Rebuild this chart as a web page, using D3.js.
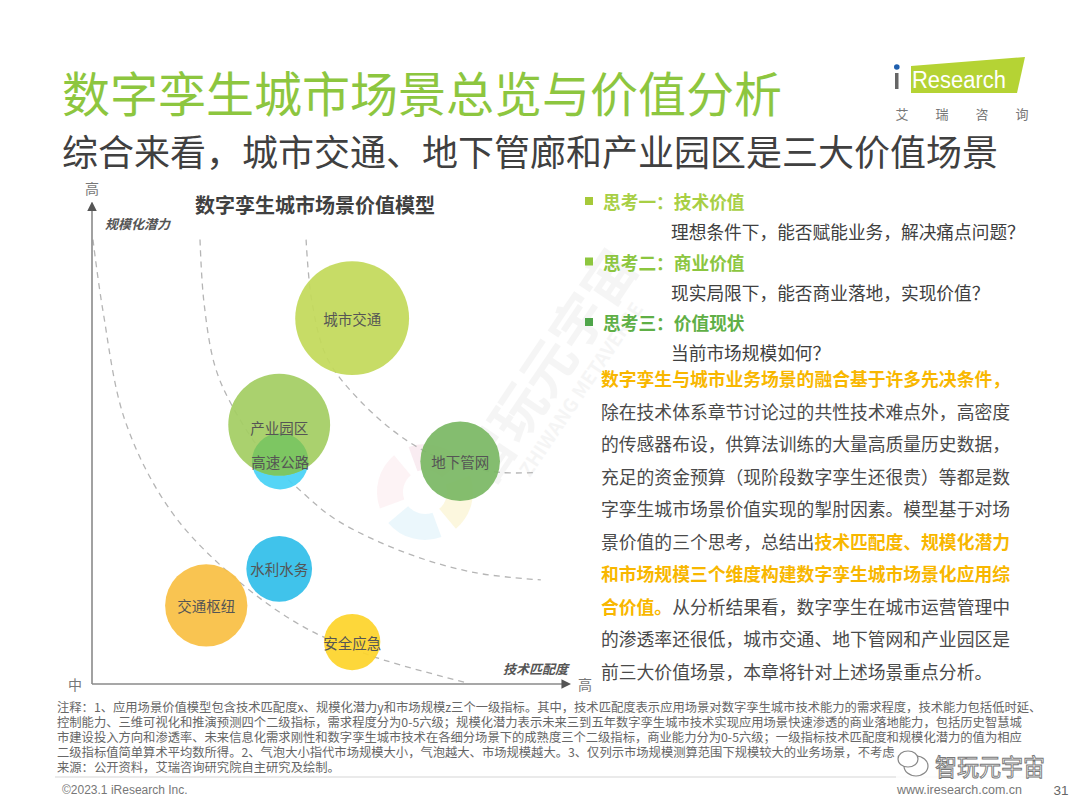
<!DOCTYPE html>
<html>
<head>
<meta charset="utf-8">
<script src="https://cdn.jsdelivr.net/npm/d3@7"></script>
<style>
    body { margin: 0; background: #fff; }
    svg text { font-family: "Noto Sans CJK SC", "Noto Sans", sans-serif; }
</style>
</head>
<body>
<svg id="chart" width="1080" height="810"></svg>
<script>
// bubble data: x = 技术匹配度, y = 规模化潜力, size = 市场规模 (0-100 relative)
const scenarios = ['城市交通', '产业园区', '高速公路', '地下管网', '水利水务', '交通枢纽', '安全应急'];
const techMatch = [54.2, 39.0, 39.2, 76.7, 39.0, 23.8, 54.2];
const scalePotential = [75.9, 53.8, 46.2, 46.2, 23.9, 16.3, 8.7];
const marketSize = [90, 72, 22, 44, 30, 47, 22];

// dashed value tiers in the same units
const curveLow = [[0.2, 92.2], [2.3, 77.3], [6.9, 54.6], [16.3, 36.1], [29.4, 22.3], [43.8, 12.0], [58.3, 5.8], [78.3, 0.2]];
const curveMid = [[22.5, 92.2], [23.3, 79.4], [25.6, 66.0], [29.2, 57.7], [36.0, 47.4], [44.0, 39.6], [51.0, 34.0], [65.4, 27.2], [79.8, 23.1], [93.5, 21.6]];
const curveHigh = [[44.6, 92.2], [45.8, 79.4], [49.0, 67.6], [55.8, 58.8], [65.6, 50.5], [74.6, 46.0], [85.0, 43.9], [92.7, 43.9]];

const axisEnds = ['中', '高'];

const thoughts = ['思考一：技术价值', '思考二：商业价值', '思考三：价值现状'];
const thoughtNotes = ['理想条件下，能否赋能业务，解决痛点问题？', '现实局限下，能否商业落地，实现价值？', '当前市场规模如何？'];

// [text, highlighted]
const paragraph = [
    [['数字孪生与城市业务场景的融合基于许多先决条件，', true]],
    [['除在技术体系章节讨论过的共性技术难点外，高密度', false]],
    [['的传感器布设，供算法训练的大量高质量历史数据，', false]],
    [['充足的资金预算（现阶段数字孪生还很贵）等都是数', false]],
    [['字孪生城市场景价值实现的掣肘因素。模型基于对场', false]],
    [['景价值的三个思考，总结出', false], ['技术匹配度、规模化潜力', true]],
    [['和市场规模三个维度构建数字孪生城市场景化应用综', true]],
    [['合价值。', true], ['从分析结果看，数字孪生在城市运营管理中', false]],
    [['的渗透率还很低，城市交通、地下管网和产业园区是', false]],
    [['前三大价值场景，本章将针对上述场景重点分析。', false]]
];

const notes = [
    '注释：1、应用场景价值模型包含技术匹配度x、规模化潜力y和市场规模z三个一级指标。其中，技术匹配度表示应用场景对数字孪生城市技术能力的需求程度，技术能力包括低时延、',
    '控制能力、三维可视化和推演预测四个二级指标，需求程度分为0-5六级；规模化潜力表示未来三到五年数字孪生城市技术实现应用场景快速渗透的商业落地能力，包括历史智慧城',
    '市建设投入方向和渗透率、未来信息化需求刚性和数字孪生城市技术在各细分场景下的成熟度三个二级指标，商业能力分为0-5六级；一级指标技术匹配度和规模化潜力的值为相应',
    '二级指标值简单算术平均数所得。2、气泡大小指代市场规模大小，气泡越大、市场规模越大。3、仅列示市场规模测算范围下规模较大的业务场景，不考虑',
    '来源：公开资料，艾瑞咨询研究院自主研究及绘制。'
];

const svg = d3.select('#chart');

const color = d3.scaleOrdinal()
    .domain(scenarios)
    .range(['#c3d95a', '#a4cd63', '#48d2f5', '#7bb864', '#31bee9', '#f9c044', '#fdd42b']);
const overlapColor = '#7dc662';

const x = d3.scaleLinear().domain([0, 100]).range([92, 572]);
const y = d3.scaleLinear().domain([0, 100]).range([684, 202]);
const r = d3.scaleSqrt().domain([0, 100]).range([0, 60]);

// ---------- header ----------
svg.append('text')
    .attr('x', 62).attr('y', 91)
    .attr('dominant-baseline', 'central')
    .style('font-size', '48px')
    .style('fill', '#8dc63f')
    .text('数字孪生城市场景总览与价值分析');

svg.append('text')
    .attr('x', 62).attr('y', 150)
    .attr('dominant-baseline', 'central')
    .style('font-size', '36px')
    .style('fill', '#404040')
    .text('综合来看，城市交通、地下管廊和产业园区是三大价值场景');

// logo
const logo = svg.append('g');
logo.append('path')
    .attr('d', 'M911,66 L1025,57 L1017,93 L911,93 Z')
    .style('fill', '#b5d334');
logo.append('rect').attr('x', 895).attr('y', 73).attr('width', 3.5).attr('height', 16).style('fill', '#666');
logo.append('circle').attr('cx', 896.8).attr('cy', 67).attr('r', 2.8).style('fill', '#1f5fae');
logo.append('text')
    .attr('x', 912).attr('y', 80)
    .attr('dominant-baseline', 'central')
    .attr('textLength', 94)
    .attr('lengthAdjust', 'spacingAndGlyphs')
    .style('font-family', '"Liberation Sans", sans-serif')
    .style('font-size', '23px')
    .style('fill', '#fff')
    .text('Research');
['艾', '瑞', '咨', '询'].forEach((c, i) => {
    logo.append('text')
        .attr('x', 902 + i * 40).attr('y', 113)
        .attr('text-anchor', 'middle')
        .attr('dominant-baseline', 'central')
        .style('font-size', '13px')
        .style('fill', '#777')
        .text(c);
});

// ---------- chart ----------
const plot = svg.append('g');

plot.append('text')
    .attr('x', 315).attr('y', 204)
    .attr('text-anchor', 'middle')
    .attr('dominant-baseline', 'central')
    .style('font-size', '20px')
    .style('font-weight', 'bold')
    .style('fill', '#404040')
    .text('数字孪生城市场景价值模型');

const defs = svg.append('defs');
defs.append('marker')
    .attr('id', 'arrow')
    .attr('viewBox', '0 0 10 10')
    .attr('refX', 2).attr('refY', 5)
    .attr('markerWidth', 6).attr('markerHeight', 6)
    .attr('orient', 'auto')
    .append('path')
    .attr('d', 'M0,0 L10,5 L0,10 Z')
    .style('fill', '#555');

const axisLine = d3.line().x(d => x(d[0])).y(d => y(d[1]));

// dashed tiers
const tierLine = d3.line()
    .x(d => x(d[0]))
    .y(d => y(d[1]))
    .curve(d3.curveCatmullRom.alpha(0.5));

[curveLow, curveMid, curveHigh].forEach(c => {
    plot.append('path')
        .datum(c)
        .attr('d', tierLine)
        .style('fill', 'none')
        .style('stroke', '#b5b5b5')
        .style('stroke-width', 1.3)
        .style('stroke-dasharray', '6,5');
});

plot.append('path')
    .datum([[0, 0], [0, 98.5]])
    .attr('d', axisLine)
    .attr('marker-end', 'url(#arrow)')
    .style('stroke', '#8a8a8a')
    .style('stroke-width', 1.6);
plot.append('path')
    .datum([[0, 0], [98.2, 0]])
    .attr('d', axisLine)
    .attr('marker-end', 'url(#arrow)')
    .style('stroke', '#8a8a8a')
    .style('stroke-width', 1.6);

plot.append('text')
    .attr('x', x(0)).attr('y', y(100) - 14)
    .attr('text-anchor', 'middle')
    .attr('dominant-baseline', 'central')
    .style('font-size', '14px').style('fill', '#777')
    .text(axisEnds[1]);
plot.append('text')
    .attr('x', x(0) - 17).attr('y', y(0))
    .attr('text-anchor', 'middle')
    .attr('dominant-baseline', 'central')
    .style('font-size', '14px').style('fill', '#777')
    .text(axisEnds[0]);
plot.append('text')
    .attr('x', x(100) + 13).attr('y', y(0))
    .attr('text-anchor', 'middle')
    .attr('dominant-baseline', 'central')
    .style('font-size', '14px').style('fill', '#777')
    .text(axisEnds[1]);

plot.append('text')
    .attr('x', x(0) + 13).attr('y', 223)
    .attr('dominant-baseline', 'central')
    .style('font-size', '13px').style('font-weight', 'bold').style('font-style', 'italic')
    .style('fill', '#555')
    .text('规模化潜力');
plot.append('text')
    .attr('x', x(100) - 4).attr('y', y(0) - 16)
    .attr('text-anchor', 'end')
    .attr('dominant-baseline', 'central')
    .style('font-size', '13px').style('font-weight', 'bold').style('font-style', 'italic')
    .style('fill', '#555')
    .text('技术匹配度');

// bubbles
const bubbles = scenarios.map((name, i) => ({
    name,
    tech: techMatch[i],
    potential: scalePotential[i],
    size: marketSize[i]
}));
const drawOrder = ['高速公路', '城市交通', '产业园区', '地下管网', '水利水务', '交通枢纽', '安全应急'];
const sorted = drawOrder.map(n => bubbles.find(b => b.name === n));

plot.selectAll('circle.bubble')
    .data(sorted)
    .enter()
    .append('circle')
    .classed('bubble', true)
    .attr('cx', d => x(d.tech))
    .attr('cy', d => y(d.potential))
    .attr('r', d => r(d.size))
    .style('fill', d => color(d.name))
    .style('opacity', 0.93);

// overlap of 高速公路 with 产业园区
const park = bubbles.find(b => b.name === '产业园区');
const highway = bubbles.find(b => b.name === '高速公路');
defs.append('clipPath').attr('id', 'parkClip')
    .append('circle')
    .attr('cx', x(park.tech)).attr('cy', y(park.potential)).attr('r', r(park.size));
plot.append('circle')
    .attr('clip-path', 'url(#parkClip)')
    .attr('cx', x(highway.tech)).attr('cy', y(highway.potential)).attr('r', r(highway.size))
    .style('fill', overlapColor);

// ---------- watermark (under labels) ----------
const wm = svg.append('g').style('pointer-events', 'none');
const pie = d3.pie().value(1).sort(null)([1, 2, 3, 4]);
const wmArc = d3.arc().innerRadius(22).outerRadius(48);
wm.append('g')
    .attr('transform', 'translate(425,492) rotate(-20)')
    .selectAll('path')
    .data(pie)
    .enter()
    .append('path')
    .attr('d', d => wmArc({ ...d, endAngle: d.endAngle - 0.35 }))
    .style('fill', (d, i) => ['#f7e7ee', '#fbf5d6', '#e6f5fb', '#fdf0f3'][i])
    .style('opacity', 0.8);
wm.append('path')
    .attr('transform', 'translate(545,365) rotate(-56)')
    .attr('d', 'M0,0')
    .attr('id', 'wmAnchor');
const wmText = wm.append('g').attr('transform', 'translate(545,365) rotate(-56)');
wmText.append('text')
    .attr('text-anchor', 'middle')
    .attr('dominant-baseline', 'central')
    .style('font-size', '54px').style('font-weight', 'bold')
    .style('fill', '#999').style('opacity', 0.09)
    .text('智玩元宇宙');
wmText.append('text')
    .attr('y', 42)
    .attr('text-anchor', 'middle')
    .attr('dominant-baseline', 'central')
    .style('font-size', '19px').style('font-weight', 'bold')
    .style('fill', '#999').style('opacity', 0.09)
    .text('ZHIWANG METAVERSE');

plot.selectAll('text.bubble-label')
    .data(sorted)
    .enter()
    .append('text')
    .classed('bubble-label', true)
    .attr('x', d => x(d.tech))
    .attr('y', d => y(d.potential) + (d.name === '产业园区' ? 3 : 0))
    .attr('text-anchor', 'middle')
    .attr('dominant-baseline', 'central')
    .style('font-size', '14.5px')
    .style('fill', '#555')
    .text(d => d.name)
    .raise();
plot.raise();

// ---------- right panel ----------
const panel = svg.append('g');
const bulletColors = ['#a6c939', '#8dc63f', '#4fa54a'];
const headColors = ['#a8cf45', '#8cc63f', '#5faf46'];
thoughts.forEach((t, i) => {
    const cy = 201 + i * 60.5;
    panel.append('rect')
        .attr('x', 585).attr('y', cy - 4).attr('width', 8).attr('height', 8)
        .style('fill', bulletColors[i]);
    panel.append('text')
        .attr('x', 603).attr('y', cy)
        .attr('dominant-baseline', 'central')
        .style('font-size', '17.7px').style('font-weight', 'bold')
        .style('fill', headColors[i])
        .text(t);
    panel.append('text')
        .attr('x', 671).attr('y', cy + 30)
        .attr('dominant-baseline', 'central')
        .style('font-size', '17.7px')
        .style('fill', '#404040')
        .text(thoughtNotes[i]);
});

paragraph.forEach((segs, i) => {
    const line = panel.append('text')
        .attr('x', 601).attr('y', 378 + i * 32.5)
        .attr('dominant-baseline', 'central')
        .style('font-size', '17.8px');
    segs.forEach(([txt, hi]) => {
        line.append('tspan')
            .style('fill', hi ? '#f8b700' : '#4a4a4a')
            .style('font-weight', hi ? 'bold' : 'normal')
            .text(txt);
    });
});

// ---------- notes & footer ----------
notes.forEach((n, i) => {
    svg.append('text')
        .attr('x', 57).attr('y', 707 + i * 15)
        .attr('dominant-baseline', 'central')
        .style('font-size', '12.3px')
        .style('fill', '#666')
        .text(n);
});

svg.append('line')
    .attr('x1', 55).attr('x2', 1040).attr('y1', 777).attr('y2', 777)
    .style('stroke', '#d5d5d5').style('stroke-width', 1);

svg.append('text')
    .attr('x', 62).attr('y', 790)
    .attr('dominant-baseline', 'central')
    .style('font-family', '"Liberation Sans", sans-serif')
    .style('font-size', '12px').style('fill', '#777')
    .text('©2023.1 iResearch Inc.');
svg.append('text')
    .attr('x', 1022).attr('y', 790)
    .attr('text-anchor', 'end')
    .attr('dominant-baseline', 'central')
    .style('font-family', '"Liberation Sans", sans-serif')
    .style('font-size', '12.5px').style('fill', '#777')
    .text('www.iresearch.com.cn');
svg.append('text')
    .attr('x', 1061).attr('y', 790)
    .attr('text-anchor', 'middle')
    .attr('dominant-baseline', 'central')
    .style('font-family', '"Liberation Sans", sans-serif')
    .style('font-size', '13.5px').style('fill', '#666')
    .text('31');

// wechat mark
const wx = svg.append('g');
wx.append('rect').attr('x', 896).attr('y', 750).attr('width', 150).attr('height', 30)
    .style('fill', '#fff').style('opacity', 0.85);
wx.append('ellipse').attr('cx', 916).attr('cy', 766).attr('rx', 12).attr('ry', 10)
    .style('fill', '#fff').style('stroke', '#888').style('stroke-width', 1.2);
wx.append('ellipse').attr('cx', 908).attr('cy', 759).attr('rx', 10).attr('ry', 8)
    .style('fill', '#fff').style('stroke', '#888').style('stroke-width', 1.2);
wx.append('text')
    .attr('x', 935).attr('y', 765)
    .attr('textLength', 110)
    .attr('lengthAdjust', 'spacingAndGlyphs')
    .attr('dominant-baseline', 'central')
    .style('font-size', '24px')
    .style('fill', '#fff').style('stroke', '#777').style('stroke-width', 1)
    .text('智玩元宇宙');
</script>
</body>
</html>
